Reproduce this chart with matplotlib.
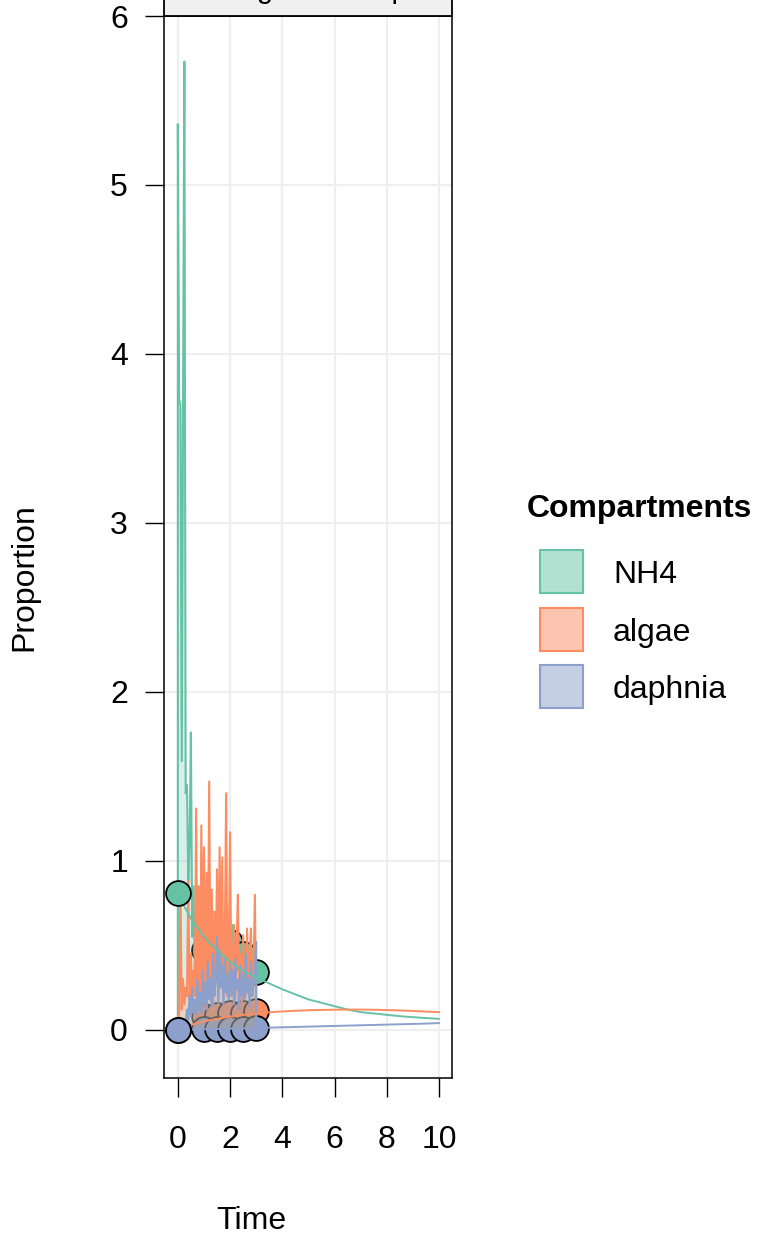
import numpy as np
import matplotlib
matplotlib.use("Agg")
import matplotlib.pyplot as plt
from matplotlib.patches import Rectangle

plt.rcParams['font.family'] = ['Liberation Sans', 'DejaVu Sans']

compartments = ["NH4", "algae", "daphnia"]
colors = {"NH4": "#66C2A5", "algae": "#FC8D62", "daphnia": "#8DA0CB"}

# observed proportions
obs_time = [0, 1, 1.5, 2, 2.5, 3]
obs_NH4 = [0.81, 0.47, 0.37, 0.52, 0.45, 0.34]
obs_algae = [0.0, 0.08, 0.09, 0.10, 0.10, 0.11]
obs_daphnia = [0.0, 0.005, 0.005, 0.005, 0.005, 0.01]

# fitted trajectories
fit_time = [0, 0.5, 1, 1.5, 2, 2.5, 3, 3.5, 4, 4.5, 5,
            5.5, 6, 6.5, 7, 7.5, 8, 8.5, 9, 9.5, 10]
fit_NH4 = [0.80, 0.66, 0.55, 0.47, 0.40, 0.35, 0.31, 0.275, 0.24, 0.21, 0.18,
           0.16, 0.14, 0.12, 0.105, 0.097, 0.089, 0.081, 0.075, 0.07, 0.065]
fit_algae = [0.0, 0.03, 0.05, 0.065, 0.078, 0.088, 0.097, 0.104, 0.109, 0.113, 0.116,
             0.118, 0.119, 0.12, 0.12, 0.119, 0.117, 0.115, 0.112, 0.108, 0.105]
fit_daphnia = [0.0, 0.001, 0.003, 0.005, 0.007, 0.009, 0.011, 0.013, 0.015, 0.017, 0.019,
               0.021, 0.023, 0.025, 0.027, 0.029, 0.031, 0.033, 0.035, 0.037, 0.04]

# noisy envelopes (0 to 3, every 0.05)
env_time = [i / 20 for i in range(61)]
env_NH4 = [5.36, 3.73, 3.70, 1.59, 3.72, 5.73, 1.40, 1.45, 0.88, 1.10,
           1.76, 0.55, 0.85, 0.35, 0.60, 0.30, 0.50, 0.25, 0.55, 0.30,
           0.48, 0.35, 0.60, 0.28, 0.55, 0.40, 0.30, 0.50, 0.35, 0.62,
           0.30, 0.71, 0.35, 0.45, 0.59, 0.30, 0.48, 0.35, 0.55, 0.28,
           0.45, 0.38, 0.62, 0.30, 0.50, 0.35, 0.42, 0.30, 0.48, 0.32,
           0.45, 0.28, 0.40, 0.35, 0.50, 0.30, 0.42, 0.35, 0.40, 0.33,
           0.30]
env_algae = [0.02, 0.10, 0.87, 0.12, 0.30, 0.15, 0.25, 0.20, 0.88, 0.18,
             0.45, 0.22, 0.35, 0.20, 1.31, 0.25, 0.85, 0.15, 1.21, 0.30,
             1.08, 0.20, 0.93, 0.25, 1.47, 0.30, 0.83, 0.15, 0.70, 0.35,
             0.95, 0.20, 1.08, 0.30, 1.02, 0.25, 0.55, 1.40, 0.20, 0.45,
             1.17, 0.25, 0.40, 0.62, 0.18, 0.50, 0.80, 0.22, 0.45, 0.15,
             0.56, 0.30, 0.20, 0.60, 0.25, 0.45, 0.60, 0.20, 0.35, 0.80,
             0.10]
env_daphnia = [0.00, 0.00, 0.01, 0.02, 0.03, 0.05, 0.04, 0.12, 0.06, 0.20,
               0.08, 0.25, 0.10, 0.18, 0.09, 0.30, 0.12, 0.22, 0.10, 0.35,
               0.15, 0.28, 0.12, 0.40, 0.18, 0.30, 0.14, 0.45, 0.20, 0.29,
               0.55, 0.16, 0.47, 0.25, 0.38, 0.15, 0.42, 0.22, 0.33, 0.18,
               0.40, 0.20, 0.35, 0.15, 0.42, 0.24, 0.30, 0.12, 0.38, 0.20,
               0.33, 0.18, 0.45, 0.22, 0.30, 0.14, 0.40, 0.20, 0.28, 0.35,
               0.52]

obs = {"NH4": obs_NH4, "algae": obs_algae, "daphnia": obs_daphnia}
fit = {"NH4": fit_NH4, "algae": fit_algae, "daphnia": fit_daphnia}
env = {"NH4": env_NH4, "algae": env_algae, "daphnia": env_daphnia}

W, H = 757, 1234
fig = plt.figure(figsize=(W / 100, H / 100), dpi=100)
ax = fig.add_axes([164 / W, 1 - 1078 / H, (452 - 164) / W, (1078 - 16) / H])

ax.set_xlim(-0.53, 10.5)
ax.set_ylim(-0.285, 6.0)
ax.set_xticks([0, 2, 4, 6, 8, 10])
ax.set_yticks([0, 1, 2, 3, 4, 5, 6])
ax.grid(True, color="#efefef", lw=1.5, zorder=0)
ax.set_axisbelow(True)
ax.tick_params(labelsize=23, length=14, width=1)
ax.tick_params(axis="x", pad=20)
ax.tick_params(axis="y", pad=12)
for s in ax.spines.values():
    s.set_linewidth(1.1)

# observed points (later times sit under the envelopes)
for c in compartments:
    ax.scatter(obs_time[1:], obs[c][1:], s=320, color=colors[c],
               edgecolor="black", linewidth=1.3, zorder=2, clip_on=False)

for c in compartments:
    tt = np.r_[env_time[0], env_time, env_time[-1]]
    vv = np.r_[0, env[c], 0]
    ax.fill(tt, vv, color=colors[c], alpha=0.25, lw=0, zorder=3)
    ax.plot(tt, vv, color=colors[c], lw=1.5, zorder=3)

for c in compartments:
    ax.plot(fit_time, fit[c], color=colors[c], lw=1.4, zorder=4)

for c in ["algae", "NH4", "daphnia"]:
    ax.scatter(obs_time[:1], obs[c][:1], s=320, color=colors[c],
               edgecolor="black", linewidth=1.3, zorder=5, clip_on=False)

# strip on top
ax.add_patch(Rectangle((0, 1), 1, 0.06, transform=ax.transAxes, clip_on=False,
                       facecolor="#f0f0f0", edgecolor="black", lw=1.3, zorder=6))
ax.text(0.5, 1 + 18 / 1062, "Tracing the isotopes", transform=ax.transAxes,
        ha="center", va="baseline", fontsize=21, zorder=7)

fig.text(24 / W, 1 - 577 / H, "Proportion", rotation=90, ha="center", va="center", fontsize=23)
fig.text(251 / W, 1 - 1229 / H, "Time", ha="center", va="baseline", fontsize=23)

# legend
fig.text(527 / W, 1 - 517 / H, "Compartments", ha="left", va="baseline",
         fontsize=23, fontweight="bold")
for i, c in enumerate(compartments):
    top = 550 + 57.5 * i
    fig.add_artist(Rectangle((540 / W, 1 - (top + 43) / H), 43 / W, 43 / H,
                             transform=fig.transFigure, facecolor=colors[c],
                             alpha=0.5, edgecolor="none"))
    fig.add_artist(Rectangle((540 / W, 1 - (top + 43) / H), 43 / W, 43 / H,
                             transform=fig.transFigure, facecolor="none",
                             edgecolor=colors[c], lw=1.5))
    fig.text(613 / W, 1 - (top + 33) / H, c, ha="left", va="baseline", fontsize=23)

fig.savefig("out.png", dpi=100)
